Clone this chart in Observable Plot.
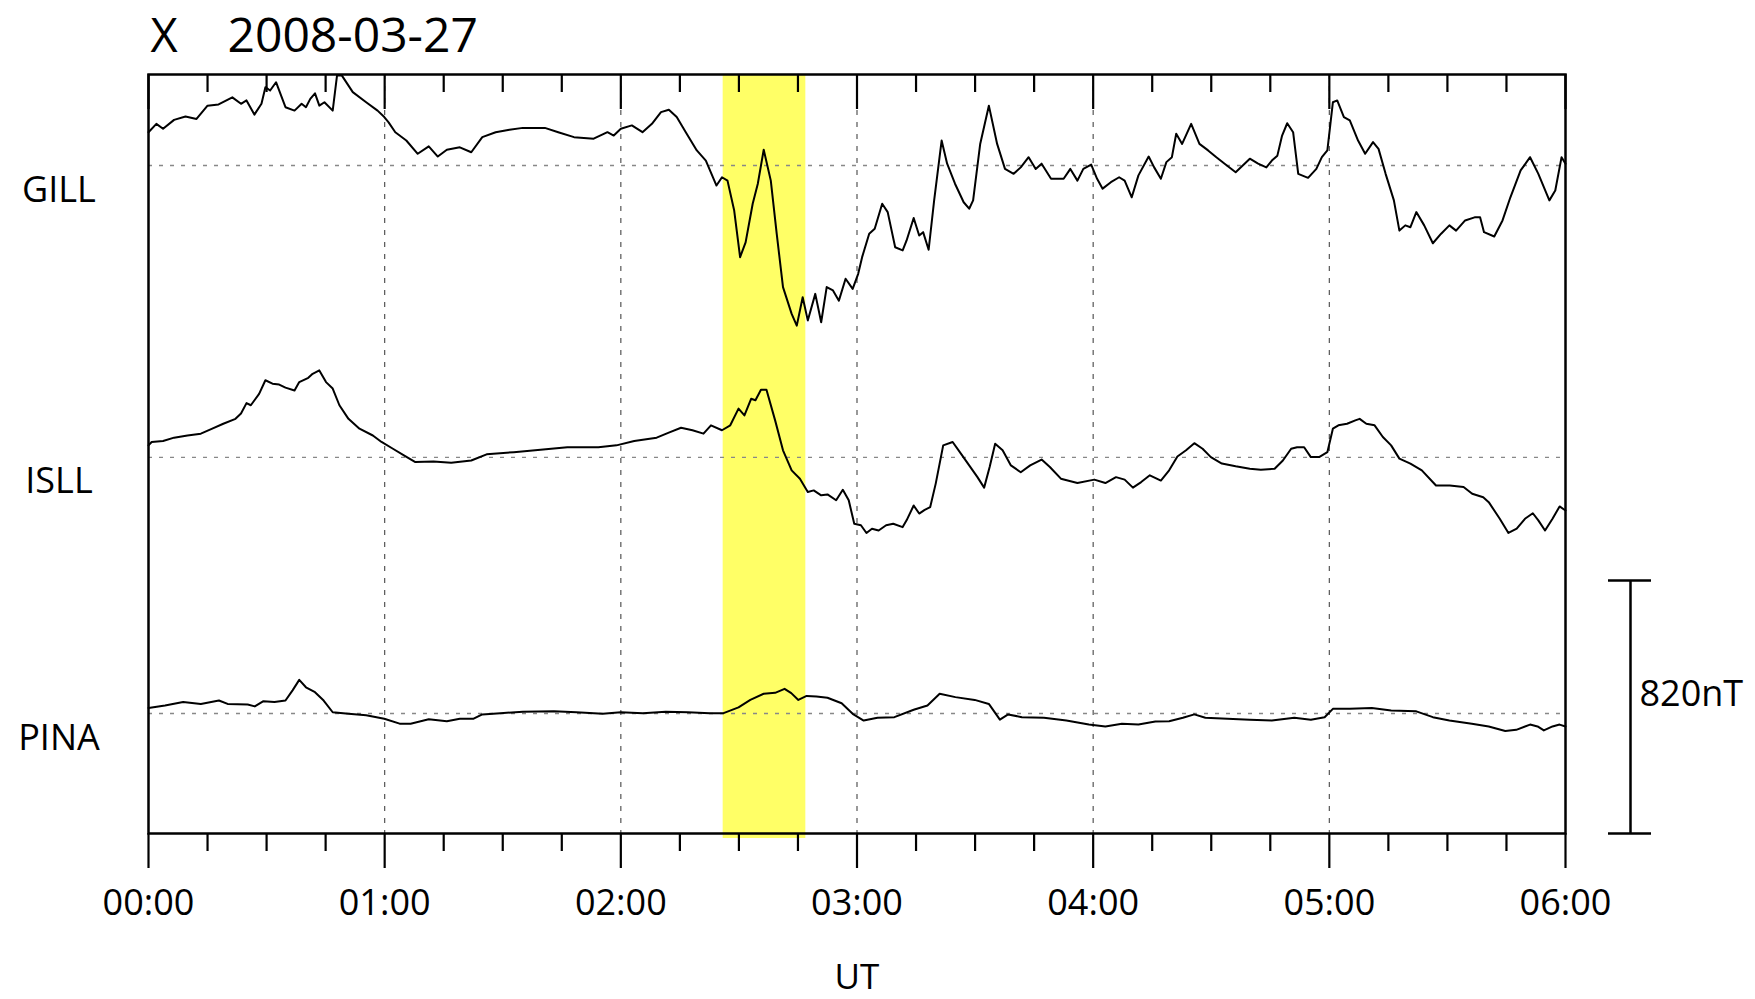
<!DOCTYPE html>
<html>
<head>
<meta charset="utf-8">
<script src="https://cdn.jsdelivr.net/npm/d3@7"></script>
<script src="https://cdn.jsdelivr.net/npm/@observablehq/plot@0.6"></script>
<style>
  html, body { margin: 0; padding: 0; background: #fff; }
  #chart svg { display: block; }
</style>
</head>
<body>
<div id="chart"></div>
<script>
// ---- data (time in minutes after 00:00 UT, X component in nT relative to each station's baseline) ----
const stations = ["GILL", "ISLL", "PINA"];
const stationOffsets = [0, -946, -1776];       // nT offset of each trace's baseline
const titleLabel = "X";
const dateLabel = "2008-03-27";
const axisLabel = "UT";
const scaleBarNT = 820;
const scaleLabel = "820nT";
const majorTicks = [0, 60, 120, 180, 240, 300, 360];
const minorTicks = [15, 30, 45, 75, 90, 105, 135, 150, 165, 195, 210, 225, 255, 270, 285, 315, 330, 345];
const gridHours = [60, 120, 180, 240, 300];
const highlight = [{start: 146, end: 167}];

const GILL = [
 [0,108],[2,135],[3.7,119],[6.5,148],[9.4,159],[12.2,151],[15,194],[17.8,198],[21.3,221],[23.5,200],
 [24.9,211],[26.9,165],[28.7,200],[29.7,254],[30.9,243],[32.4,270],[34.8,189],[37.1,178],[38.9,200],[40,189],
 [41.1,216],[42.3,234],[43.4,194],[44.7,205],[46.8,178],[47.9,292],[49.1,292],[51.9,238],[55.3,205],[58.2,178],
 [59.9,157],[61,140],[62.7,108],[65.5,81],[68.4,38],[71.2,62],[73.5,29],[75.8,51],[79.1,59],[82,43],
 [84.8,92],[88.2,108],[91.7,116],[95.1,122],[100.7,122],[104.1,108],[108.1,92],[113.1,87],[116.6,108],[118.2,97],
 [120,119],[122.8,130],[125.5,108],[127.9,135],[130.2,173],[132.2,181],[134.2,157],[136.5,108],[139.3,49],[141.6,16],
 [144.3,-65],[145.7,-38],[147.1,-49],[148.8,-146],[150.3,-297],[151.7,-249],[153.5,-124],[154.8,-59],[156.3,51],[158.1,-49],
 [159.6,-221],[161.2,-394],[163.4,-481],[164.7,-519],[166.2,-427],[167.5,-502],[169.4,-416],[170.9,-508],[172.3,-394],[173.9,-405],
 [175.4,-438],[177.1,-367],[178.9,-400],[180.3,-351],[181.3,-297],[183.1,-221],[184.5,-205],[186.4,-124],[187.8,-151],[189.7,-265],
 [191.6,-275],[192.6,-243],[194.4,-170],[195.8,-227],[196.8,-216],[198.2,-273],[199.6,-113],[201.5,81],[202.9,6],[204.9,-59],
 [207.1,-119],[208.5,-140],[209.5,-113],[211.3,70],[213.5,194],[215.6,70],[217.6,-11],[219.8,-27],[221.6,-6],[223.6,27],
 [225.4,-11],[226.9,6],[229.3,-43],[232.5,-43],[234.2,-11],[236,-49],[237.5,-11],[239.5,3],[241,-43],[242.4,-75],
 [244.5,-54],[246.6,-38],[248,-49],[249.8,-103],[251.5,-32],[254.1,29],[255.5,-6],[257.2,-43],[258.6,11],[260,27],
 [261.1,103],[262.6,70],[264.9,135],[267,70],[269.2,49],[271.3,27],[273.4,6],[276.2,-22],[279.8,22],[281.9,6],
 [284,-6],[285.4,16],[286.8,32],[288,97],[289.3,137],[290.8,108],[292.1,-27],[294.6,-40],[296.7,-11],[298.1,27],
 [299.5,49],[300.9,205],[302,211],[303.7,157],[305.2,146],[307.3,81],[309.1,38],[311.1,76],[312.5,54],[314.3,-27],
 [316.4,-113],[317.8,-211],[319.3,-194],[320.6,-200],[322.1,-151],[324.1,-194],[326.3,-252],[328.4,-221],[330.5,-194],[332.2,-211],
 [334.5,-178],[336.9,-168],[338.3,-168],[339.3,-216],[341.9,-230],[344,-178],[346,-103],[348.6,-16],[351,27],[353.1,-27],
 [355.9,-113],[357.4,-81],[359,27],[360,6]
];

const ISLL = [
 [0,39],[0.8,50],[3.7,53],[6.5,64],[9.9,71],[13.3,77],[16.2,93],[19,109],[22.1,125],[23.5,142],
 [24.9,176],[26,169],[28.1,206],[29.7,250],[31.5,239],[33.2,236],[34.8,226],[37.1,217],[38.3,244],[40.6,258],
 [41.7,271],[43.4,282],[45.1,244],[46.8,223],[48.5,169],[50.8,125],[53.6,93],[57,71],[59.2,50],[62.1,28],
 [65,6],[67.8,-15],[72.4,-13],[76.9,-17],[82,-10],[85.9,10],[92.8,17],[99.6,25],[106.4,33],[114.3,33],
 [118.9,39],[123.4,53],[129.1,64],[132.5,82],[135.3,96],[138.2,88],[141,77],[142.9,104],[145.7,88],[147.8,104],
 [149.9,158],[151.4,136],[153.1,190],[154.2,185],[155.6,219],[157,219],[159.2,120],[161.2,23],[163.4,-42],[165.5,-69],
 [167.5,-112],[169,-107],[170.9,-123],[172.5,-120],[174.7,-139],[176.4,-105],[177.9,-139],[179.3,-215],[181,-220],[182.4,-245],
 [183.8,-231],[185.5,-237],[187.4,-220],[189.2,-215],[191.6,-226],[192.6,-204],[194.4,-156],[195.8,-182],[197.2,-170],[198.6,-161],
 [200,-85],[201.9,39],[204.3,50],[206.4,12],[208.5,-26],[210.6,-64],[212.3,-98],[213.7,-31],[215.1,44],[217,23],
 [219.1,-26],[221.6,-48],[224,-26],[226.9,-7],[229,-31],[231.8,-69],[236,-83],[240.3,-72],[243.1,-83],[245.8,-64],
 [248,-72],[250.1,-98],[252.2,-80],[254.4,-58],[257.2,-75],[259.3,-42],[261.4,3],[263.6,23],[265.7,46],[267.8,28],
 [269.9,1],[272.7,-20],[276.2,-29],[279.8,-37],[282.6,-40],[286.1,-37],[288.2,-10],[290.3,28],[291.8,33],[293.6,33],
 [295.3,1],[297.4,1],[299.5,17],[300.9,93],[302.3,104],[304.5,109],[306.6,120],[307.7,125],[309.4,109],[311.5,104],
 [313.6,66],[315.7,39],[317.8,-4],[320.6,-20],[323.5,-42],[327.1,-91],[330.6,-91],[334.1,-96],[336.3,-118],[339.1,-129],
 [340.5,-145],[343.3,-199],[345.5,-245],[347.6,-231],[349.7,-199],[351.7,-181],[353.1,-204],[354.8,-237],[356.7,-199],[358.5,-159],
 [360,-172]
];

const PINA = [
 [0,18],[4.2,26],[8.8,37],[13.3,31],[17.9,42],[20.1,31],[25.2,29],[27,23],[29.2,40],[32,37],
 [34.8,42],[36.6,75],[38.3,109],[40,85],[42.3,69],[44.5,42],[46.8,4],[50.8,-1],[55.3,-6],[59.9,-17],
 [63.8,-33],[66.6,-33],[71.2,-19],[75.8,-25],[79.1,-17],[82.6,-17],[84.8,-3],[89.4,1],[95.1,6],[103,7],
 [108.7,4],[115.4,-1],[120,4],[125.6,1],[131.4,6],[137,4],[142.6,1],[146.1,1],[149.9,20],[152.9,44],
 [156.3,64],[159.2,67],[161.6,80],[163.3,66],[165.1,44],[167.2,57],[169.7,55],[172.5,51],[176.1,33],[178.9,-1],
 [181.7,-23],[185.2,-14],[189.5,-12],[194.4,12],[197.9,26],[201,64],[205,53],[209.9,44],[213.5,31],[216.3,-20],
 [218.4,-3],[221.9,-12],[227.5,-14],[233.2,-23],[238.9,-36],[243.1,-42],[247.3,-33],[251.5,-36],[255.8,-26],[259.3,-25],
 [262.8,-14],[265.7,-3],[268.5,-14],[274.1,-17],[279.8,-20],[285.4,-23],[291.1,-14],[295.3,-20],[298.8,-12],[300.9,15],
 [305.2,15],[310.8,18],[315.7,10],[322.1,7],[326.3,-12],[330.5,-23],[336.2,-33],[340.5,-42],[344.7,-57],[347.5,-53],
 [351,-36],[352.9,-42],[354.5,-55],[356.7,-42],[358.5,-36],[360,-42]
];

const yMin = -2165, yMax = 295;

// ---- build table ----
const series = {GILL, ISLL, PINA};
const rows = stations.flatMap((s, i) =>
  series[s].map(([t, v]) => ({station: s, t, y: stationOffsets[i] + v}))
);
const labelRows = stations.map((s, i) => ({station: s, y: stationOffsets[i]}));

const W = 1755, H = 999;
const mL = 148, mR = 190, mT = 74, mB = 166;
const frameW = W - mL - mR, frameH = H - mT - mB;
const fmt = m => String(Math.floor(m / 60)).padStart(2, "0") + ":" + String(m % 60).padStart(2, "0");
const font = "'Open Sans', 'DejaVu Sans', sans-serif";

const chart = Plot.plot({
  width: W,
  height: H,
  marginLeft: mL, marginRight: mR, marginTop: mT, marginBottom: mB,
  style: {fontFamily: font, background: "#fff", color: "#000"},
  x: {domain: [0, 360], axis: null},
  y: {domain: [yMin, yMax], axis: null},
  marks: [
    Plot.rect(highlight, {x1: "start", x2: "end", fill: "#ffff66", insetBottom: -5}),
    Plot.ruleX(gridHours, {stroke: "#555", strokeWidth: 1.2, strokeDasharray: "5,7"}),
    Plot.ruleY(stationOffsets, {stroke: "#888", strokeWidth: 1.3, strokeDasharray: "4,7"}),
    Plot.line(rows, {x: "t", y: "y", z: "station", stroke: "#000", strokeWidth: 2, curve: "linear"}),
    Plot.frame({stroke: "#000", strokeWidth: 2.5}),
    // inward ticks on top edge
    Plot.ruleX(majorTicks, {stroke: "#000", strokeWidth: 2.2, insetBottom: frameH - 35}),
    Plot.ruleX(minorTicks, {stroke: "#000", strokeWidth: 2.2, insetBottom: frameH - 18}),
    // outward ticks and labels on bottom edge
    Plot.axisX({anchor: "bottom", ticks: majorTicks, tickSize: 35, tickPadding: 21, tickFormat: fmt,
                fontSize: 36, strokeWidth: 2.2, label: null}),
    Plot.axisX({anchor: "bottom", ticks: minorTicks, tickSize: 18, tickFormat: () => "",
                strokeWidth: 2.2, label: null}),
    // station labels
    Plot.text(labelRows, {frameAnchor: "left", y: "y", text: "station", dx: -89.5, dy: 24.5,
                          textAnchor: "middle", lineAnchor: "middle", fontSize: 36, fill: "#000"}),
    // title
    Plot.text([titleLabel], {frameAnchor: "top-left", text: d => d, dx: 2, dy: -23,
                             textAnchor: "start", lineAnchor: "bottom", fontSize: 47, fill: "#000"}),
    Plot.text([dateLabel], {frameAnchor: "top-left", text: d => d, dx: 79, dy: -23,
                            textAnchor: "start", lineAnchor: "bottom", fontSize: 48, fill: "#000"}),
    // x axis label
    Plot.text([axisLabel], {frameAnchor: "bottom", text: d => d, dy: 155,
                            textAnchor: "middle", lineAnchor: "bottom", fontSize: 35, fill: "#000"}),
    // scale bar
    Plot.ruleX([360], {y1: yMin, y2: yMin + scaleBarNT, dx: 65, stroke: "#000", strokeWidth: 2.5}),
    Plot.ruleY([yMin, yMin + scaleBarNT], {insetLeft: frameW + 43, insetRight: -86, stroke: "#000", strokeWidth: 2.5}),
    Plot.text([scaleLabel], {x: 360, y: yMin + scaleBarNT / 2, text: d => d, dx: 74, dy: -13,
                             textAnchor: "start", lineAnchor: "middle", fontSize: 36, fill: "#000"})
  ]
});
document.getElementById("chart").appendChild(chart);
</script>
</body>
</html>
